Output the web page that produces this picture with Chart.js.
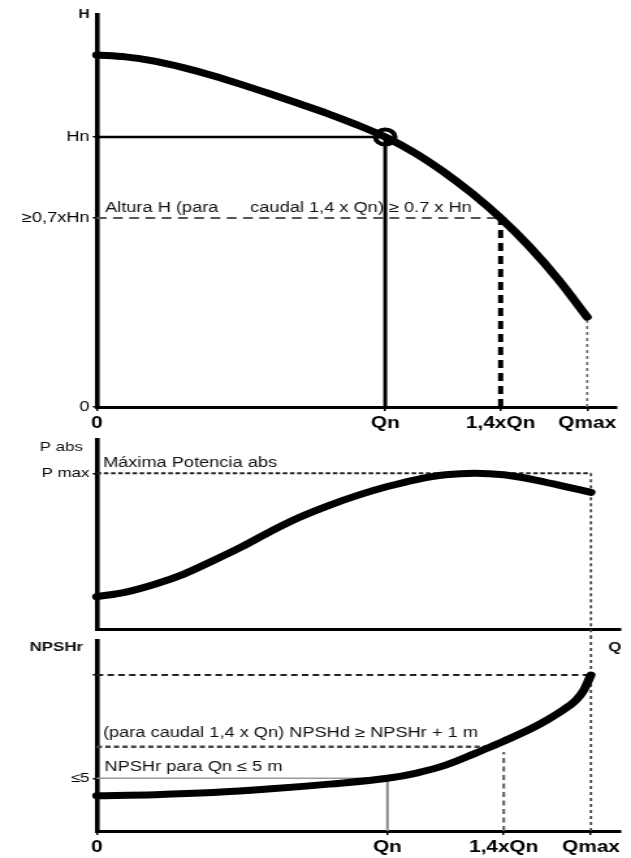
<!DOCTYPE html>
<html>
<head>
<meta charset="utf-8">
<script src="https://cdn.jsdelivr.net/npm/chart.js@4.4.1/dist/chart.umd.min.js"></script>
<style>
  html, body { margin: 0; padding: 0; background: #fff; }
  #wrap { position: relative; width: 631px; height: 858px; overflow: hidden; background: #fff; }
  #wrap canvas { position: absolute; left: 0; top: 0; }
</style>
</head>
<body>
<div id="wrap">
  <canvas id="cH" width="485" height="858" style="width:631px;height:858px"></canvas>
  <canvas id="cP" width="485" height="858" style="width:631px;height:858px"></canvas>
  <canvas id="cN" width="485" height="858" style="width:631px;height:858px"></canvas>
</div>
<script>
// Flow axis, in multiples of the rated flow Qn
const qTicks = [0, 1, 1.4, 1.7];
const qTickLabels = ['0', 'Qn', '1,4xQn', 'Qmax'];

// Head curve H(Q), in multiples of Hn
const qHead = [0, 0.1, 0.2, 0.3, 0.4, 0.5, 0.6, 0.7, 0.8, 0.9, 1.0, 1.1, 1.2, 1.3, 1.4, 1.5, 1.6, 1.7];
const head  = [1.304, 1.297, 1.281, 1.257, 1.228, 1.195, 1.160, 1.124, 1.087, 1.046, 1.0, 0.943, 0.873, 0.792, 0.70, 0.594, 0.472, 0.333];
const headTicks = [0, 0.7, 1, 1.304];
const headTickLabels = ['0', '≥0,7xHn', 'Hn', ''];

// Absorbed power curve, in multiples of P max
const qPower = [0, 0.1, 0.2, 0.3, 0.4, 0.5, 0.6, 0.7, 0.8, 0.9, 1.0, 1.1, 1.2, 1.3, 1.4, 1.5, 1.6, 1.7];
const power  = [0.21, 0.24, 0.29, 0.355, 0.44, 0.53, 0.63, 0.72, 0.795, 0.86, 0.915, 0.96, 0.99, 1.0, 0.99, 0.96, 0.92, 0.878];
const powerTicks = [1];
const powerTickLabels = ['P max'];

// Required NPSH curve, m
const qNpsh = [0, 0.2, 0.4, 0.6, 0.8, 1.0, 1.1, 1.2, 1.3, 1.356, 1.4, 1.5, 1.55, 1.6, 1.625, 1.65, 1.675, 1.7];
const npsh  = [3.35, 3.45, 3.65, 4.0, 4.45, 5.0, 5.5, 6.25, 7.35, 8.0, 8.52, 9.8, 10.55, 11.4, 11.88, 12.45, 13.35, 14.8];
const npshTicks = [5, 14.8];
const npshTickLabels = ['≤5', ''];

// Reference values
const Q_N = 1, Q_14 = 1.4, Q_MAX = 1.7;
const H_N = 1, H_MIN = 0.7;
const P_MAX = 1;
const NPSH_QN = 5, NPSH_D = 8.0, Q_D = 1.356, NPSH_TOP = 14.8, NPSH_14_MARK = 7.5;

// ---- drawing helpers ----
const S = 631 / 485;            // canvases are drawn narrow and widened by CSS
const AXIS_LEFT = 96.7 / S;     // width reserved for the vertical axis
const PAD_RIGHT = 485 - 620 / S;
const FONT = '"Liberation Sans", Arial, Helvetica, sans-serif';
Chart.defaults.font.family = FONT;
Chart.defaults.color = '#000';

const pts = (xs, ys) => xs.map((x, i) => ({ x, y: ys[i] }));
const seg = (x0, y0, x1, y1) => [{ x: x0, y: y0 }, { x: x1, y: y1 }];
function line(data, opts) {
  return Object.assign({
    data, pointRadius: 0, pointHoverRadius: 0, borderColor: '#000',
    borderWidth: 2, fill: false, tension: 0, clip: false
  }, opts);
}
function curve(xs, ys, width) {
  return line(pts(xs, ys), { borderWidth: width, cubicInterpolationMode: 'monotone', borderCapStyle: 'round', borderJoinStyle: 'round' });
}

function xScale(showLabels, height) {
  return {
    type: 'linear', min: 0, max: 1.8,
    afterBuildTicks: s => { s.ticks = qTicks.map(v => ({ value: v })); },
    afterFit: s => { s.height = height; },
    border: { display: true, color: '#000', width: 3 },
    grid: { drawOnChartArea: false, drawTicks: showLabels, tickLength: 4, color: '#000', lineWidth: 1.5 },
    ticks: {
      display: showLabels, autoSkip: false, maxRotation: 0, minRotation: 0, padding: 3,
      color: '#000', font: { size: 16, weight: 'bold' },
      callback: (v, i) => qTickLabels[i]
    }
  };
}
function yScale(max, ticks, labels, size) {
  return {
    type: 'linear', min: 0, max,
    afterBuildTicks: s => { s.ticks = ticks.map(v => ({ value: v })); },
    afterFit: s => { s.width = AXIS_LEFT; },
    border: { display: true, color: '#000', width: 3.6 },
    grid: { drawOnChartArea: false, tickLength: 3, color: '#000', lineWidth: 1.5 },
    ticks: { padding: 2.5, color: '#000', font: { size }, callback: (v, i) => labels[i] }
  };
}

// free text placed relative to the scales
const notes = items => ({
  id: 'notes',
  afterDatasetsDraw(chart) {
    const { ctx, scales: { x, y }, chartArea } = chart;
    ctx.save();
    items.forEach(n => {
      ctx.font = n.font;
      ctx.fillStyle = n.color || '#111';
      ctx.textAlign = n.align || 'left';
      ctx.textBaseline = 'middle';
      const [px, py] = n.at(x, y, chartArea);
      ctx.fillText(n.text, px, py);
    });
    ctx.restore();
  }
});

function baseOptions(padTop, padBottom, xs, ys) {
  return {
    responsive: false, animation: false, devicePixelRatio: 1,
    layout: { padding: { left: 0, right: PAD_RIGHT, top: padTop, bottom: padBottom } },
    plugins: { legend: { display: false }, tooltip: { enabled: false } },
    events: [],
    scales: { x: xs, y: ys }
  };
}

// ---- H(Q) panel ----
new Chart(document.getElementById('cH'), {
  type: 'line',
  data: {
    datasets: [
      line([{ x: Q_N, y: H_N }], { showLine: false, pointRadius: 7.5, pointBorderWidth: 4, pointBorderColor: '#000', pointBackgroundColor: 'rgba(0,0,0,0)' }),
      curve(qHead, head, 7),
      line(seg(0, H_N, Q_N, H_N), { borderWidth: 2.5 }),
      line(seg(Q_N, 0, Q_N, H_N), { borderWidth: 3 }),
      line(seg(0, H_MIN, Q_14, H_MIN), { borderColor: '#555', borderWidth: 2, borderDash: [7.5, 5] }),
      line(seg(Q_14, 0, Q_14, H_MIN), { borderWidth: 4, borderDash: [8, 5] }),
      line(seg(Q_MAX, 0, Q_MAX, head[head.length - 1]), { borderColor: '#666', borderWidth: 1.6, borderDash: [3, 3] })
    ]
  },
  options: baseOptions(15, 421, xScale(true, 30), yScale(1.452, headTicks, headTickLabels, 14)),
  plugins: [notes([
    { text: 'H', font: 'bold 12px ' + FONT, align: 'right', at: (x, y, a) => [a.left - 5.5, a.top] },
    { text: 'Altura H (para', font: '14px ' + FONT, at: (x, y) => [x.getPixelForValue(0) + 6.4, y.getPixelForValue(H_MIN) - 9.5] },
    { text: 'caudal 1,4 x Qn) ≥ 0.7 x Hn', font: '14px ' + FONT, at: (x, y) => [x.getPixelForValue(0) + 118, y.getPixelForValue(H_MIN) - 9.5] }
  ])]
});

// ---- absorbed power panel ----
new Chart(document.getElementById('cP'), {
  type: 'line',
  data: {
    datasets: [
      curve(qPower, power, 7),
      line(seg(0, P_MAX, Q_MAX, P_MAX), { borderColor: '#222', borderWidth: 2, borderDash: [3.5, 2] }),
      line(seg(Q_MAX, P_MAX, Q_MAX, -0.045), { borderColor: '#444', borderWidth: 1.8, borderDash: [3, 3] })
    ]
  },
  options: baseOptions(440, 222.5, xScale(false, 6), yScale(1.213, powerTicks, powerTickLabels, 13)),
  plugins: [notes([
    { text: 'P abs', font: '13px ' + FONT, align: 'right', at: (x, y, a) => [a.left - 10.5, a.top + 7] },
    { text: 'Máxima Potencia abs', font: '14px ' + FONT, at: (x, y) => [x.getPixelForValue(0) + 4.8, y.getPixelForValue(P_MAX) - 10] }
  ])]
});

// ---- NPSHr panel ----
new Chart(document.getElementById('cN'), {
  type: 'line',
  data: {
    datasets: [
      curve(qNpsh, npsh, 7),
      line(seg(0, NPSH_TOP, Q_MAX, NPSH_TOP), { borderColor: '#222', borderWidth: 2, borderDash: [5, 3.3] }),
      line(seg(0, NPSH_D, Q_D, NPSH_D), { borderColor: '#444', borderWidth: 2.5, borderDash: [4, 2.6] }),
      line(seg(0, NPSH_QN, Q_N, NPSH_QN), { borderColor: '#999', borderWidth: 1.5 }),
      line(seg(Q_N, 0, Q_N, NPSH_QN), { borderColor: '#888', borderWidth: 2 }),
      line(seg(Q_14, 0, Q_14, NPSH_14_MARK), { borderColor: '#666', borderWidth: 2.2, borderDash: [5, 3.5] }),
      line(seg(Q_MAX, 0, Q_MAX, 18.5), { borderColor: '#444', borderWidth: 1.8, borderDash: [3, 3] })
    ]
  },
  options: baseOptions(640.7, 0, xScale(true, 27), yScale(18.06, npshTicks, npshTickLabels, 13)),
  plugins: [notes([
    { text: 'NPSHr', font: 'bold 13px ' + FONT, align: 'right', at: (x, y, a) => [a.left - 10.5, a.top + 7] },
    { text: 'Q', font: 'bold 13px ' + FONT, align: 'center', at: (x, y, a) => [a.right - 4, a.top + 7] },
    { text: '(para caudal 1,4 x Qn) NPSHd ≥ NPSHr + 1 m', font: '14px ' + FONT, at: (x, y) => [x.getPixelForValue(0) + 4.8, y.getPixelForValue(NPSH_D) - 13.5] },
    { text: 'NPSHr para Qn ≤ 5 m', font: '14px ' + FONT, at: (x, y) => [x.getPixelForValue(0) + 6, y.getPixelForValue(NPSH_QN) - 11] }
  ])]
});
</script>
</body>
</html>
